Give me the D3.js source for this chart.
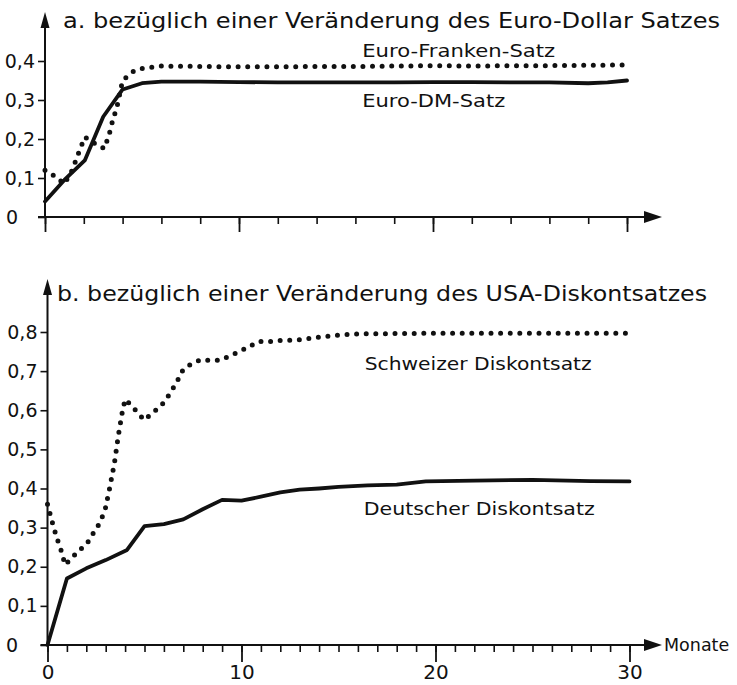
<!DOCTYPE html>
<html>
<head>
<meta charset="utf-8">
<script src="https://cdn.jsdelivr.net/npm/d3@7"></script>
<style>
  html, body { margin: 0; padding: 0; background: #fff; }
  svg { display: block; }
  text { font-family: "DejaVu Sans", sans-serif; fill: #111; }
</style>
</head>
<body>
<svg id="chart" width="737" height="685"></svg>
<script>
// ---------- Data ----------
// Panel a: response to a change of the Euro-Dollar rate
const titleA = "a. bezüglich einer Veränderung des Euro-Dollar Satzes";
const frankenLabel = "Euro-Franken-Satz";
const frankenMonths = [0, 0.5, 1, 1.4, 1.7, 2.05, 2.5, 2.85, 3.05, 3.3, 3.5, 3.7, 4, 4.5, 5, 6, 8, 10, 12, 14, 16, 18, 20, 22, 24, 26, 28, 30];
const frankenValues = [0.12, 0.105, 0.085, 0.12, 0.16, 0.205, 0.19, 0.182, 0.175, 0.21, 0.25, 0.28, 0.35, 0.372, 0.381, 0.387, 0.386, 0.385, 0.385, 0.386, 0.386, 0.387, 0.388, 0.387, 0.388, 0.388, 0.389, 0.39];
const dmLabel = "Euro-DM-Satz";
const dmMonths = [0, 1, 2.05, 3, 4, 5, 6, 8, 10, 12, 14, 16, 18, 20, 22, 24, 26, 28, 29, 30];
const dmValues = [0.04, 0.095, 0.145, 0.257, 0.327, 0.343, 0.347, 0.347, 0.346, 0.345, 0.345, 0.345, 0.345, 0.346, 0.346, 0.345, 0.345, 0.343, 0.345, 0.35];

// Panel b: response to a change of the US discount rate
const titleB = "b. bezüglich einer Veränderung des USA-Diskontsatzes";
const chLabel = "Schweizer Diskontsatz";
const chMonths = [0, 0.15, 0.3, 0.45, 0.6, 0.75, 0.9, 1.25, 1.6, 2, 2.3, 2.6, 2.95, 3.2, 3.45, 3.65, 3.85, 4.0, 4.4, 4.65, 5.0, 5.35, 5.7, 6.0, 6.3, 6.65, 7.0, 7.4, 7.9, 8.4, 8.9, 9.4, 9.9, 10.4, 10.9, 11.5, 12, 13, 14, 15, 16, 18, 20, 22, 24, 26, 28, 30];
const chValues = [0.36, 0.332, 0.304, 0.279, 0.256, 0.235, 0.205, 0.222, 0.241, 0.256, 0.281, 0.304, 0.341, 0.40, 0.465, 0.535, 0.594, 0.628, 0.609, 0.593, 0.575, 0.591, 0.605, 0.62, 0.642, 0.671, 0.705, 0.718, 0.729, 0.727, 0.728, 0.739, 0.75, 0.763, 0.776, 0.776, 0.778, 0.78, 0.787, 0.792, 0.795, 0.796, 0.797, 0.797, 0.797, 0.797, 0.797, 0.797];
const deLabel = "Deutscher Diskontsatz";
const deMonths = [0, 1, 2, 3, 4.1, 5, 6, 7, 8, 9, 10, 11, 12, 13, 14, 15, 16.5, 18, 19.5, 22, 25, 28, 30];
const deValues = [0, 0.17, 0.196, 0.217, 0.243, 0.304, 0.309, 0.321, 0.347, 0.371, 0.369, 0.379, 0.39, 0.397, 0.40, 0.404, 0.408, 0.41, 0.418, 0.42, 0.422, 0.419, 0.418];

// Tick definitions
const ticksA_y = [0, 0.1, 0.2, 0.3, 0.4];
const ticksB_y = [0, 0.1, 0.2, 0.3, 0.4, 0.5, 0.6, 0.7, 0.8];
const majorMonths = [0, 10, 20, 30];
const minorMonthsA = d3.range(0, 31, 2);
const minorMonthsB = d3.range(0, 31, 1);
const xAxisLabel = "Monate";

// ---------- Drawing ----------
const svg = d3.select("#chart");
const fmt = d => d === 0 ? "0" : d.toFixed(1).replace(".", ",");

function panel(cfg) {
  const g = svg.append("g");
  const x = d3.scaleLinear().domain([0, 30]).range(cfg.xRange);
  const y = d3.scaleLinear().domain([0, cfg.yMax]).range(cfg.yRange);
  const y0 = y(0), x0 = x(0);

  // y axis with ticks
  const ya = g.append("g").attr("transform", `translate(${x0},0)`)
    .call(d3.axisLeft(y).tickValues(cfg.yTicks).tickSize(7).tickPadding(3).tickFormat(fmt));
  ya.select(".domain").remove();
  ya.selectAll("line").attr("stroke", "#111").attr("stroke-width", 1.6);
  ya.selectAll("text").style("font-size", "19px").attr("fill", "#111");
  ya.selectAll(".tick").filter(d => d === 0).select("text")
    .attr("text-anchor", "start").attr("x", -(x0 - 6));

  // x axis minor ticks
  const xm = g.append("g").attr("transform", `translate(0,${y0})`)
    .call(d3.axisBottom(x).tickValues(cfg.minor).tickSize(7).tickFormat(""));
  xm.select(".domain").remove();
  xm.selectAll("line").attr("stroke", "#111").attr("stroke-width", 1.6);
  // x axis major ticks
  const xM = g.append("g").attr("transform", `translate(0,${y0})`)
    .call(d3.axisBottom(x).tickValues(majorMonths).tickSize(cfg.majorSize).tickPadding(3)
      .tickFormat(cfg.xLabels ? d3.format("d") : ""));
  xM.select(".domain").remove();
  xM.selectAll("line").attr("stroke", "#111").attr("stroke-width", 1.8);
  xM.selectAll("text").style("font-size", "20px").attr("fill", "#111");

  // axis lines with arrows
  g.append("line").attr("x1", x0 - 7).attr("x2", 648).attr("y1", y0).attr("y2", y0)
    .attr("stroke", "#111").attr("stroke-width", 2);
  g.append("path").attr("d", `M644,${y0 - 6}L662,${y0}L644,${y0 + 6}Z`).attr("fill", "#111");
  g.append("line").attr("x1", x0).attr("x2", x0).attr("y1", y0 + 1).attr("y2", cfg.arrowTip + 12)
    .attr("stroke", "#111").attr("stroke-width", 2);
  g.append("path").attr("d", `M${x0 - 4.5},${cfg.arrowTip + 16}L${x0},${cfg.arrowTip}L${x0 + 4.5},${cfg.arrowTip + 16}Z`).attr("fill", "#111");

  // title
  g.append("text").attr("x", cfg.titleX).attr("y", cfg.titleY).text(cfg.title)
    .style("font-size", "21px").attr("textLength", cfg.titleW).attr("lengthAdjust", "spacingAndGlyphs");

  const line = d3.line().x(d => x(d[0])).y(d => y(d[1])).curve(d3.curveLinear);

  // dotted series
  g.append("path").datum(d3.zip(cfg.dotM, cfg.dotV)).attr("d", line)
    .attr("fill", "none").attr("stroke", "#111").attr("stroke-width", 5)
    .attr("stroke-linecap", "round").attr("stroke-dasharray", "0 9.6");
  // solid series
  g.append("path").datum(d3.zip(cfg.solM, cfg.solV)).attr("d", line)
    .attr("fill", "none").attr("stroke", "#111").attr("stroke-width", 3.8)
    .attr("stroke-linejoin", "round").attr("stroke-linecap", "round");

  // series labels
  cfg.labels.forEach(l => {
    g.append("text").attr("x", x(l.m)).attr("y", y(l.v)).text(l.text)
      .style("font-size", "17px").attr("textLength", l.w).attr("lengthAdjust", "spacingAndGlyphs");
  });
  return {x, y};
}

panel({
  xRange: [45, 627], yRange: [217, 61], yMax: 0.4, yTicks: ticksA_y,
  minor: minorMonthsA, majorSize: 15, xLabels: false, arrowTip: 12,
  title: titleA, titleX: 63, titleY: 28, titleW: 657,
  dotM: frankenMonths, dotV: frankenValues, solM: dmMonths, solV: dmValues,
  labels: [
    {text: frankenLabel, m: 16.35, v: 0.41, w: 193},
    {text: dmLabel, m: 16.35, v: 0.281, w: 143}
  ]
});

const pb = panel({
  xRange: [47.5, 629.5], yRange: [645, 332], yMax: 0.8, yTicks: ticksB_y,
  minor: minorMonthsB, majorSize: 17, xLabels: true, arrowTip: 279,
  title: titleB, titleX: 57, titleY: 301, titleW: 650,
  dotM: chMonths, dotV: chValues, solM: deMonths, solV: deValues,
  labels: [
    {text: chLabel, m: 16.35, v: 0.703, w: 227},
    {text: deLabel, m: 16.3, v: 0.332, w: 231}
  ]
});

svg.append("text").attr("x", 664).attr("y", pb.y(0) + 6).text(xAxisLabel)
  .style("font-size", "17.5px");
</script>
</body>
</html>
